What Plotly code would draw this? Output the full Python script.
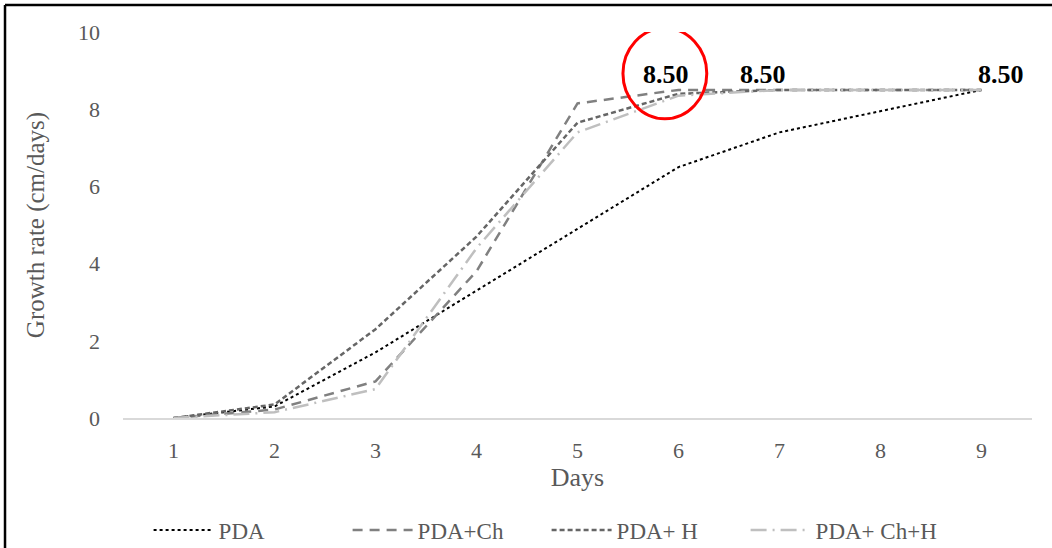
import plotly.graph_objects as go

days = [1, 2, 3, 4, 5, 6, 7, 8, 9]
pda = [0.0, 0.30, 1.70, 3.30, 4.90, 6.50, 7.40, 7.95, 8.50]
pda_ch = [0.0, 0.22, 0.95, 3.80, 8.15, 8.50, 8.50, 8.50, 8.50]
pda_h = [0.0, 0.35, 2.30, 4.70, 7.65, 8.40, 8.50, 8.50, 8.50]
pda_ch_h = [0.0, 0.15, 0.75, 4.40, 7.40, 8.35, 8.50, 8.50, 8.50]
series_names = ["PDA", "PDA+Ch", "PDA+ H", "PDA+ Ch+H"]
label_idx = [5, 6, 8]
label_xshift = [-13, -17, 19]

serif = "Liberation Serif"
gray = "#595959"

fig = go.Figure()
fig.add_trace(go.Scatter(x=days, y=pda, name=series_names[0], mode="lines",
                         line=dict(color="#000000", width=2, dash="dot")))
fig.add_trace(go.Scatter(x=days, y=pda_ch, name=series_names[1], mode="lines",
                         line=dict(color="#808080", width=2.5, dash="10px,7px")))
fig.add_trace(go.Scatter(x=days, y=pda_h, name=series_names[2], mode="lines",
                         line=dict(color="#666666", width=2.5, dash="5px,3px")))
fig.add_trace(go.Scatter(x=days, y=pda_ch_h, name=series_names[3], mode="lines",
                         line=dict(color="#bfbfbf", width=2.5, dash="16px,6px,2px,6px")))

for i, xs in zip(label_idx, label_xshift):
    fig.add_annotation(x=days[i], y=pda_ch[i], text="<b>%.2f</b>" % pda_ch[i],
                       showarrow=False, xshift=xs, yshift=15,
                       font=dict(family=serif, size=26, color="#000000"))

# red circle highlight
fig.add_shape(type="circle", xref="x", yref="y", x0=5.45, x1=6.28, y0=7.75, y1=10.1,
              line=dict(color="#ff0000", width=3))

# outer border (left and top)
fig.add_shape(type="line", xref="paper", yref="paper", x0=-0.1298, x1=-0.1298, y0=1.07, y1=-0.4,
              line=dict(color="#000000", width=2.5))
fig.add_shape(type="line", xref="paper", yref="paper", x0=-0.1298, x1=1.1, y0=1.07, y1=1.07,
              line=dict(color="#000000", width=2.5))

fig.update_layout(
    width=1052, height=548,
    margin=dict(l=123, r=20, t=32, b=130, autoexpand=False),
    paper_bgcolor="white", plot_bgcolor="white",
    showlegend=True,
    legend=dict(orientation="h", x=0.466, xanchor="center", y=-0.29, yanchor="middle",
                font=dict(family=serif, size=23, color=gray), itemwidth=60, entrywidth=124),
    xaxis=dict(range=[0.5, 9.5], tickvals=days, ticktext=[str(d) for d in days],
               showgrid=False, zeroline=False, showline=True, linecolor="#d9d9d9", linewidth=1.5,
               ticks="", ticklabelstandoff=12, automargin=False,
               tickfont=dict(family=serif, size=22, color=gray),
               title=dict(text="Days", font=dict(family=serif, size=26, color=gray), standoff=6)),
    yaxis=dict(range=[0, 10], tickvals=[0, 2, 4, 6, 8, 10],
               showgrid=False, zeroline=False, showline=False,
               ticks="", ticklabelstandoff=22, automargin=False,
               tickfont=dict(family=serif, size=22, color=gray),
               title=dict(text="Growth rate (cm/days)", font=dict(family=serif, size=25, color=gray), standoff=26)),
)

fig.write_html("out.html")
